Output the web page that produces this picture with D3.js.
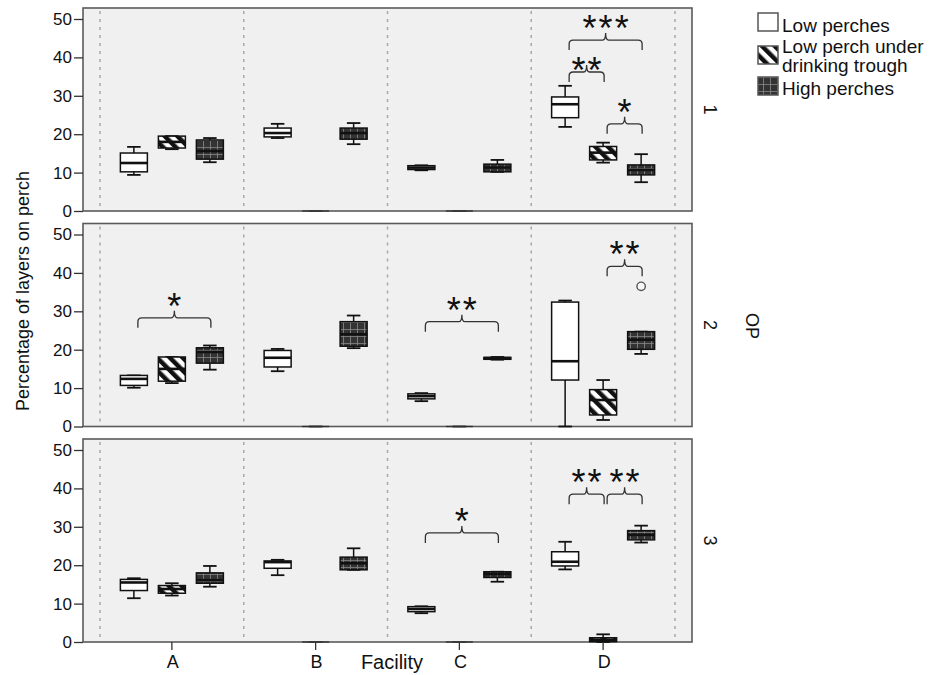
<!DOCTYPE html>
<html>
<head>
<meta charset="utf-8">
<script src="https://cdn.jsdelivr.net/npm/d3@7"></script>
<style>
  body { margin: 0; background: #fff; }
  text { font-family: "Liberation Sans", Arial, sans-serif; fill: #111; }
</style>
</head>
<body>
<script>
var facilities = ["A", "B", "C", "D"];
var perchTypes = ["Low perches", "Low perch under drinking trough", "High perches"];
var opLevels = ["1", "2", "3"];
var yTicks = [0, 10, 20, 30, 40, 50];

// rows: [lower whisker, Q1, median, Q3, upper whisker], A..D x perch type
var op1Stats = [
    [9.4, 10.2, 12.5, 15.1, 16.7], [16.1, 16.4, 18.0, 19.5, 19.5], [12.7, 13.5, 15.6, 18.5, 19.0],
    [19.0, 19.3, 20.3, 21.6, 22.7], [0, 0, 0, 0, 0], [17.4, 18.7, 20.3, 21.6, 22.9],
    [10.6, 10.8, 11.3, 11.8, 11.9], [0, 0, 0, 0, 0], [10.2, 10.2, 11.3, 12.2, 13.3],
    [21.9, 24.3, 27.8, 29.7, 32.6], [12.6, 13.3, 15.2, 16.8, 17.8], [7.5, 9.4, 10.7, 12.0, 14.8]
];
var op2Stats = [
    [10.1, 10.7, 12.4, 13.3, 13.3], [11.3, 11.8, 15.0, 18.1, 18.1], [14.8, 16.5, 19.4, 20.5, 21.1],
    [14.4, 15.5, 17.9, 19.8, 20.2], [0, 0, 0, 0, 0], [20.4, 20.9, 24.0, 27.3, 28.9],
    [6.6, 7.2, 7.9, 8.5, 8.7], [0, 0, 0, 0, 0], [17.4, 17.5, 17.8, 18.0, 18.1],
    [0, 12.1, 17.0, 32.4, 32.8], [1.7, 3.0, 6.9, 9.6, 12.1], [18.9, 20.1, 22.6, 24.7, 24.7]
];
var op3Stats = [
    [11.4, 13.4, 15.5, 16.3, 16.6], [12.1, 12.7, 13.8, 14.7, 15.3], [14.4, 15.3, 16.1, 18.0, 19.8],
    [17.4, 19.2, 20.8, 21.1, 21.4], [0, 0, 0, 0, 0], [18.8, 18.8, 20.5, 22.1, 24.4],
    [7.5, 7.9, 8.6, 9.2, 9.3], [0, 0, 0, 0, 0], [15.7, 16.8, 17.7, 18.3, 18.3],
    [18.9, 19.8, 20.9, 23.5, 26.1], [0, 0.1, 0.6, 1.1, 2.0], [25.9, 26.6, 27.9, 29.0, 30.3]
];
var allStats = [op1Stats, op2Stats, op3Stats];

var outliers = [
    { op: "2", facility: "D", type: 2, value: 36.5 }
];

var brackets = [
    { op: "1", facility: "D", from: 0, to: 2, level: 44.5, label: "***" },
    { op: "1", facility: "D", from: 0, to: 1, level: 36.2, label: "**" },
    { op: "1", facility: "D", from: 1, to: 2, level: 22.7, label: "*" },
    { op: "2", facility: "A", from: 0, to: 2, level: 28.3, label: "*" },
    { op: "2", facility: "C", from: 0, to: 2, level: 27.3, label: "**" },
    { op: "2", facility: "D", from: 1, to: 2, level: 41.7, label: "**" },
    { op: "3", facility: "C", from: 0, to: 2, level: 28.4, label: "*" },
    { op: "3", facility: "D", from: 0, to: 1, level: 38.5, label: "**" },
    { op: "3", facility: "D", from: 1, to: 2, level: 38.5, label: "**" }
];

var W = 937, H = 675;
var panelLeft = 83, panelRight = 692, panelH = 203;
var boxW = 27;

var svg = d3.select("body").append("svg")
    .attr("width", W)
    .attr("height", H);

// hatch patterns
var defs = svg.append("defs");
var diag = defs.append("pattern")
    .attr("id", "diagHatch")
    .attr("patternUnits", "userSpaceOnUse")
    .attr("width", 9).attr("height", 9)
    .attr("patternTransform", "rotate(-45)");
diag.append("rect").attr("width", 9).attr("height", 9).attr("fill", "#fff");
diag.append("rect").attr("width", 4.5).attr("height", 9).attr("fill", "#111");

var grid = defs.append("pattern")
    .attr("id", "gridHatch")
    .attr("patternUnits", "userSpaceOnUse")
    .attr("width", 7).attr("height", 7);
grid.append("rect").attr("width", 7).attr("height", 7).attr("fill", "#333");
grid.append("path").attr("d", "M0,0H7M0,0V7")
    .attr("stroke", "#8a8a8a").attr("stroke-width", 1.6);

var fills = ["#fff", "url(#diagHatch)", "url(#gridHatch)"];

var x = d3.scaleBand().domain(facilities).range([100, 675]);
var xOff = d3.scalePoint().domain([0, 1, 2]).range([-38, 38]);

function cx(f, t) {
    return x(f) + x.bandwidth() / 2 + xOff(t);
}

opLevels.forEach(function(op, pi) {
    var top = 8 + pi * 215.5;
    var y = d3.scaleLinear().domain([0, 50]).range([top + panelH, top + 11]);
    var g = svg.append("g");

    g.append("rect")
        .attr("x", panelLeft).attr("y", top)
        .attr("width", panelRight - panelLeft).attr("height", panelH)
        .attr("fill", "#f0f0f0")
        .attr("stroke", "#5a5a5a").attr("stroke-width", 1.6);

    // dotted separators
    var edges = facilities.map(function(f) { return x(f); }).concat([x.range()[1]]);
    g.selectAll(".sep").data(edges).enter().append("line")
        .attr("x1", function(d) { return d; }).attr("x2", function(d) { return d; })
        .attr("y1", top + 3).attr("y2", top + panelH)
        .attr("stroke", "#a8a8a8").attr("stroke-width", 1.5)
        .attr("stroke-dasharray", "3,5");

    // y axis
    var axis = g.append("g")
        .attr("transform", "translate(" + panelLeft + ",0)")
        .call(d3.axisLeft(y).tickValues(yTicks).tickSize(9).tickPadding(2));
    axis.select(".domain").remove();
    axis.selectAll(".tick line").attr("stroke", "#333").attr("stroke-width", 1.3);
    axis.selectAll(".tick text")
        .style("font-size", "17px")
        .style("font-family", "Liberation Sans, Arial, sans-serif")
        .attr("fill", "#111");

    // boxes
    var rows = [];
    allStats[pi].forEach(function(s, i) {
        rows.push({ f: facilities[Math.floor(i / 3)], t: i % 3, s: s });
    });

    var bx = g.selectAll(".box").data(rows).enter().append("g")
        .attr("opacity", function(d) { return d.s[4] == 0 ? 0.6 : 1; });
    bx.append("line")
        .attr("x1", function(d) { return cx(d.f, d.t); })
        .attr("x2", function(d) { return cx(d.f, d.t); })
        .attr("y1", function(d) { return y(d.s[0]); })
        .attr("y2", function(d) { return y(d.s[4]); })
        .attr("stroke", "#111").attr("stroke-width", 1.5);
    bx.selectAll(".cap").data(function(d) {
        return [{ d: d, v: d.s[0] }, { d: d, v: d.s[4] }];
    }).enter().append("line")
        .attr("x1", function(c) { return cx(c.d.f, c.d.t) - boxW / 4; })
        .attr("x2", function(c) { return cx(c.d.f, c.d.t) + boxW / 4; })
        .attr("y1", function(c) { return y(c.v); })
        .attr("y2", function(c) { return y(c.v); })
        .attr("stroke", "#111").attr("stroke-width", 1.8);
    bx.append("rect")
        .attr("x", function(d) { return cx(d.f, d.t) - boxW / 2; })
        .attr("y", function(d) { return y(d.s[3]); })
        .attr("width", boxW)
        .attr("height", function(d) { return y(d.s[1]) - y(d.s[3]); })
        .attr("fill", function(d) { return fills[d.t]; })
        .attr("stroke", "#111").attr("stroke-width", 1.5);
    bx.append("line")
        .attr("x1", function(d) { return cx(d.f, d.t) - boxW / 2; })
        .attr("x2", function(d) { return cx(d.f, d.t) + boxW / 2; })
        .attr("y1", function(d) { return y(d.s[2]); })
        .attr("y2", function(d) { return y(d.s[2]); })
        .attr("stroke", "#111")
        .attr("stroke-width", function(d) { return d.s[4] == 0 ? 1.5 : 2.6; });

    // outliers
    g.selectAll(".out").data(outliers.filter(function(o) { return o.op == op; }))
        .enter().append("circle")
        .attr("cx", function(o) { return cx(o.facility, o.type); })
        .attr("cy", function(o) { return y(o.value); })
        .attr("r", 4.2)
        .attr("fill", "#f8f8f8")
        .attr("stroke", "#555").attr("stroke-width", 1.4);

    // significance brackets
    var panelBrackets = brackets.filter(function(b) { return b.op == op; });
    // star label sits ~21px above its bracket, less when a wider bracket is just above
    function labelOffset(b) {
        var off = 21;
        panelBrackets.forEach(function(o) {
            if (o !== b && o.facility == b.facility && o.level > b.level &&
                o.from <= b.from && o.to >= b.to) {
                off = Math.min(off, (y(b.level) - y(o.level)) - 21);
            }
        });
        return off;
    }
    var br = g.selectAll(".br").data(panelBrackets)
        .enter().append("g");
    br.append("path")
        .attr("d", function(b) {
            var x1 = cx(b.facility, b.from) + 4, x2 = cx(b.facility, b.to) + 1;
            var xm = (x1 + x2) / 2, ly = y(b.level);
            return "M" + x1 + "," + (ly + 10) + "V" + (ly + 4) +
                "Q" + x1 + "," + ly + " " + (x1 + 4) + "," + ly +
                "H" + (xm - 3) + "Q" + xm + "," + ly + " " + xm + "," + (ly - 7) +
                "Q" + xm + "," + ly + " " + (xm + 3) + "," + ly +
                "H" + (x2 - 4) + "Q" + x2 + "," + ly + " " + x2 + "," + (ly + 4) +
                "V" + (ly + 10);
        })
        .attr("fill", "none").attr("stroke", "#333").attr("stroke-width", 1.3);
    br.append("text")
        .attr("x", function(b) { return (cx(b.facility, b.from) + cx(b.facility, b.to)) / 2 + 3.5; })
        .attr("y", function(b) { return y(b.level) - labelOffset(b) + 22; })
        .attr("text-anchor", "middle")
        .style("font-size", "36px")
        .style("letter-spacing", "2px")
        .text(function(b) { return b.label; });

    // facet label
    svg.append("text")
        .attr("transform", "translate(704," + (top + panelH / 2) + ") rotate(90)")
        .attr("text-anchor", "middle")
        .style("font-size", "18px")
        .text(op);

    // bottom category axis
    if (pi == opLevels.length - 1) {
        var xa = g.append("g").selectAll(".xt").data(facilities).enter();
        xa.append("line")
            .attr("x1", function(f) { return cx(f, 1); })
            .attr("x2", function(f) { return cx(f, 1); })
            .attr("y1", top + panelH).attr("y2", top + panelH + 8)
            .attr("stroke", "#333").attr("stroke-width", 1.3);
        xa.append("text")
            .attr("x", function(f) { return cx(f, 1) + 1; })
            .attr("y", top + panelH + 26)
            .attr("text-anchor", "middle")
            .style("font-size", "18px")
            .text(function(f) { return f; });
    }
});

// axis titles
svg.append("text")
    .attr("transform", "translate(29,291) rotate(-90)")
    .attr("text-anchor", "middle")
    .style("font-size", "18px")
    .text("Percentage of layers on perch");

svg.append("text")
    .attr("x", 392).attr("y", 669)
    .attr("text-anchor", "middle")
    .style("font-size", "20px")
    .text("Facility");

svg.append("text")
    .attr("transform", "translate(746,326) rotate(90)")
    .attr("text-anchor", "middle")
    .style("font-size", "18px")
    .text("OP");

// legend
var legendRows = [
    { t: 0, sy: 13, lines: [["Low perches", 32]] },
    { t: 1, sy: 46, lines: [["Low perch under", 53], ["drinking trough", 72]] },
    { t: 2, sy: 77, lines: [["High perches", 95]] }
];
var lg = svg.append("g");
legendRows.forEach(function(r) {
    lg.append("rect")
        .attr("x", 758).attr("y", r.sy)
        .attr("width", 20).attr("height", 18)
        .attr("fill", fills[r.t])
        .attr("stroke", "#555").attr("stroke-width", 1.5);
    r.lines.forEach(function(l) {
        lg.append("text")
            .attr("x", 782).attr("y", l[1])
            .style("font-size", "19px")
            .text(l[0]);
    });
});
</script>
</body>
</html>
